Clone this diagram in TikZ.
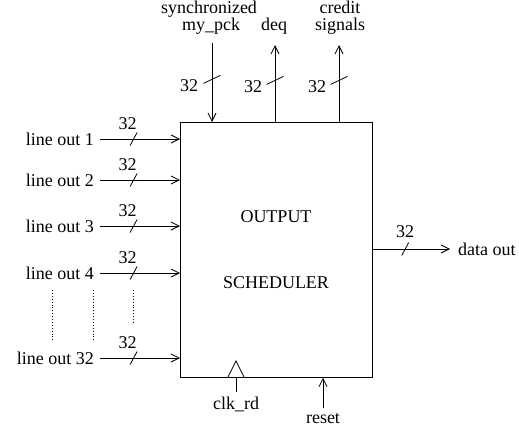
\documentclass[tikz,border=0pt]{standalone}
\usepackage{fontspec}
\setmainfont{Liberation Serif}
\usetikzlibrary{arrows.meta,calc}
\begin{document}
\begin{tikzpicture}[x=1pt,y=-1pt,
  every node/.style={font=\fontsize{18}{17}\selectfont, inner sep=0pt},
  wire/.style={line width=0.8pt},
  arr/.style={wire,-{Straight Barb[length=8pt,width=8pt,line width=0.8pt]}},
  lbl/.style={anchor=east},
  dots/.style={dotted, line width=0.9pt}]
\useasboundingbox (0,0) rectangle (519,428);

% scheduler block
\node[draw, line width=0.8pt, minimum width=192pt, minimum height=255pt, anchor=north west] (sched) at (180,122) {};
\node (t1) at (276,217) {OUTPUT};
\node (t2) at (276,283) {SCHEDULER};

% horizontal bus marker, vertical bus marker
\newcommand{\hbus}[1]{\draw[wire] ($(#1)+(-3.5,6.5)$) -- ($(#1)+(3.5,-6.5)$);}
\newcommand{\vbus}[1]{\draw[wire] ($(#1)+(-8.5,4)$) -- ($(#1)+(8.5,-4)$);}

% input lines
\foreach \i/\txt/\y in {1/line out 1/139, 2/line out 2/180, 3/line out 3/226, 4/line out 4/273, 5/line out 32/358}{
  \node[lbl] (in\i) at (94,\y) {\txt};
  \coordinate (s\i) at (100,\y);
  \draw[arr] (s\i) -- coordinate[pos=0.42] (m\i) (s\i -| sched.west);
  \hbus{m\i}
  \node (w\i) at ($(m\i)+(-6,-15)$) {32};
}

% continuation dots
\coordinate (d1a) at (52,290); \coordinate (d1b) at (52,342);
\coordinate (d2a) at (93,290); \coordinate (d2b) at (93,342);
\coordinate (d3a) at (133,290); \coordinate (d3b) at (133,323);
\draw[dots] (d1a) -- (d1b);
\draw[dots] (d2a) -- (d2b);
\draw[dots] (d3a) -- (d3b);

% top signals
\node[align=center, anchor=south] (syn) at (209,35) {synchronized\\\hspace*{4pt}my\_pck};
\node[anchor=south] (deq) at (274,35) {deq};
\node[align=center, anchor=south] (cre) at (340,35) {credit\\signals};
\coordinate (ta) at (212,43);
\coordinate (tb) at (275,45);
\coordinate (tc) at (339,45);
\draw[arr] (ta) -- coordinate[pos=0.46] (ma) (ta |- sched.north);
\draw[arr] (tb |- sched.north) -- coordinate[pos=0.54] (mb) (tb);
\draw[arr] (tc |- sched.north) -- coordinate[pos=0.54] (mc) (tc);
\vbus{ma} \vbus{mb} \vbus{mc}
\node (wa) at ($(ma)+(-23,6)$) {32};
\node (wb) at ($(mb)+(-22,6)$) {32};
\node (wc) at ($(mc)+(-22,6)$) {32};

% output
\coordinate (oa) at (sched.east |- 0,249);
\coordinate (ob) at (450,249);
\draw[arr] (oa) -- coordinate[pos=0.42] (mo) (ob);
\hbus{mo}
\node (wo) at ($(mo)+(0,-17)$) {32};
\node[anchor=west] (dout) at (458,249) {data out};

% clock and reset
\coordinate (ck) at (236,377);
\draw[wire] (228,377) -- (236,361) -- (244,377);
\coordinate (ckb) at (236,392);
\draw[wire] (ck) -- (ckb);
\node (clk) at (236,404) {clk\_rd};
\coordinate (rs) at (323,408);
\draw[arr] (rs) -- (rs |- sched.south);
\node (rst) at (323,419) {reset};
\end{tikzpicture}
\end{document}
